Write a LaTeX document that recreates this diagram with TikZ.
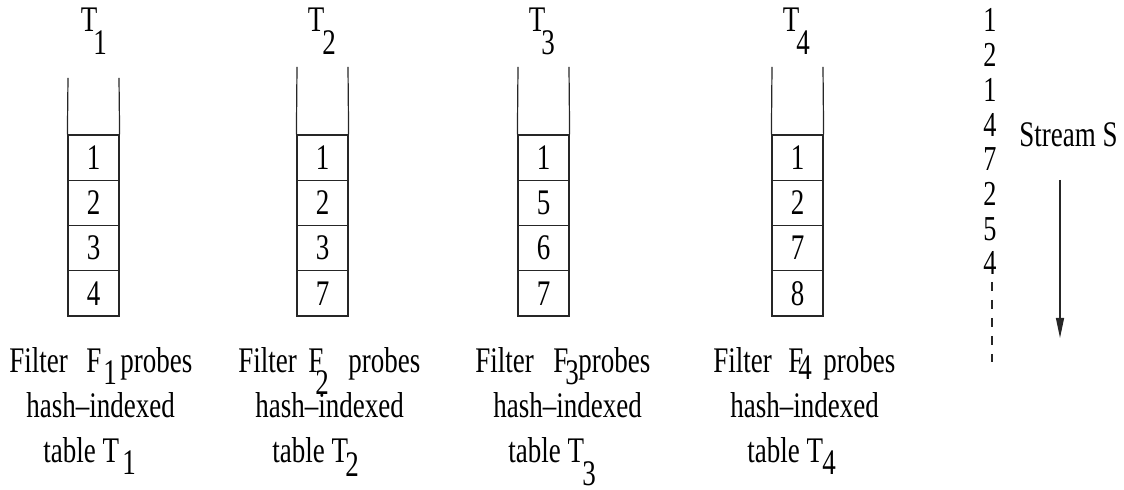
\documentclass[tikz,border=0pt]{standalone}
\usepackage{fontspec}
\setmainfont{Liberation Serif}[FakeStretch=0.75]
\usetikzlibrary{arrows.meta}
\tikzset{
    cell/.style={
        draw=black!85,
        line width=0.6pt,
        minimum width=25.5pt,
        minimum height=22.6pt,
        inner sep=0pt,
        font=\fontsize{18}{20}\selectfont
    },
    lbl/.style={
        inner sep=0pt,
        anchor=base west,
        font=\fontsize{18}{20}\selectfont
    },
    wall/.style={
        draw=black!85,
        line width=0.6pt
    }
}

\begin{document}
\begin{tikzpicture}[x=0.5pt,y=-0.5pt]
  \useasboundingbox (0,0) rectangle (1124,490);

  % Tables with their entries
  \foreach \t/\lx/\top/\a/\b/\c/\d in {1/68/78/1/2/3/4, 2/297/67/1/2/3/7, 3/518/67/1/5/6/7, 4/772/67/1/2/7/8} {
    \foreach \v [count=\k] in {\a,\b,\c,\d} {
      \node[cell] (c\t\k) at ({\lx+25.5}, {135+45.25*(\k-0.5)}) {\v};
    }
    \coordinate (w\t l) at (\lx,\top);
    \coordinate (w\t r) at ({\lx+51},\top);
    \draw[wall] (w\t l) -- (c\t1.north west);
    \draw[wall] (w\t r) -- (c\t1.north east);
  }

  % Table names
  \foreach \t/\tx/\sx in {1/89/100, 2/316/329, 3/537/548, 4/791/803} {
    \node[lbl, anchor=base] (h\t) at (\tx,32) {T};
    \node[lbl, anchor=base] (h\t s) at (\sx,55) {\t};
  }

  % Captions under the tables
  \foreach \t/\fx/\Fx/\sx/\sy/\px/\hx/\tbx/\tsx/\tsy in {
      1/9/86/103/385/120/26/43/122/475,
      2/238/308/315/395/348/255/272/345/477,
      3/475/553/565/385/578/493/508/582/486,
      4/713/788/798/380/823/730/747/822/475} {
    \node[lbl] (f\t) at (\fx,373) {Filter};
    \node[lbl] (F\t) at (\Fx,373) {F};
    \node[lbl] (F\t s) at (\sx,\sy) {\t};
    \node[lbl] (p\t) at (\px,373) {probes};
    \node[lbl] (x\t) at (\hx,418) {hash--indexed};
    \node[lbl] (b\t) at (\tbx,463) {table T};
    \node[lbl] (b\t s) at (\tsx,\tsy) {\t};
  }

  % Stream S
  \foreach \v [count=\k] in {1,2,1,4,7,2,5,4} {
    \node[lbl, anchor=base, font=\fontsize{17.5}{19}\selectfont] (s\k) at (990, {32+34.7*(\k-1)}) {\v};
  }
  \node[lbl] (sname) at (1019,147) {Stream S};
  \coordinate (da) at (992,282);
  \coordinate (db) at (992,362);
  \draw[wall, dash pattern=on 4.5pt off 4.5pt] (da) -- (db);
  \coordinate (sa) at (1060,180);
  \coordinate (sb) at (1060,338);
  \draw[wall, -{Triangle[length=10pt,width=4pt]}] (sa) -- (sb);
\end{tikzpicture}
\end{document}
